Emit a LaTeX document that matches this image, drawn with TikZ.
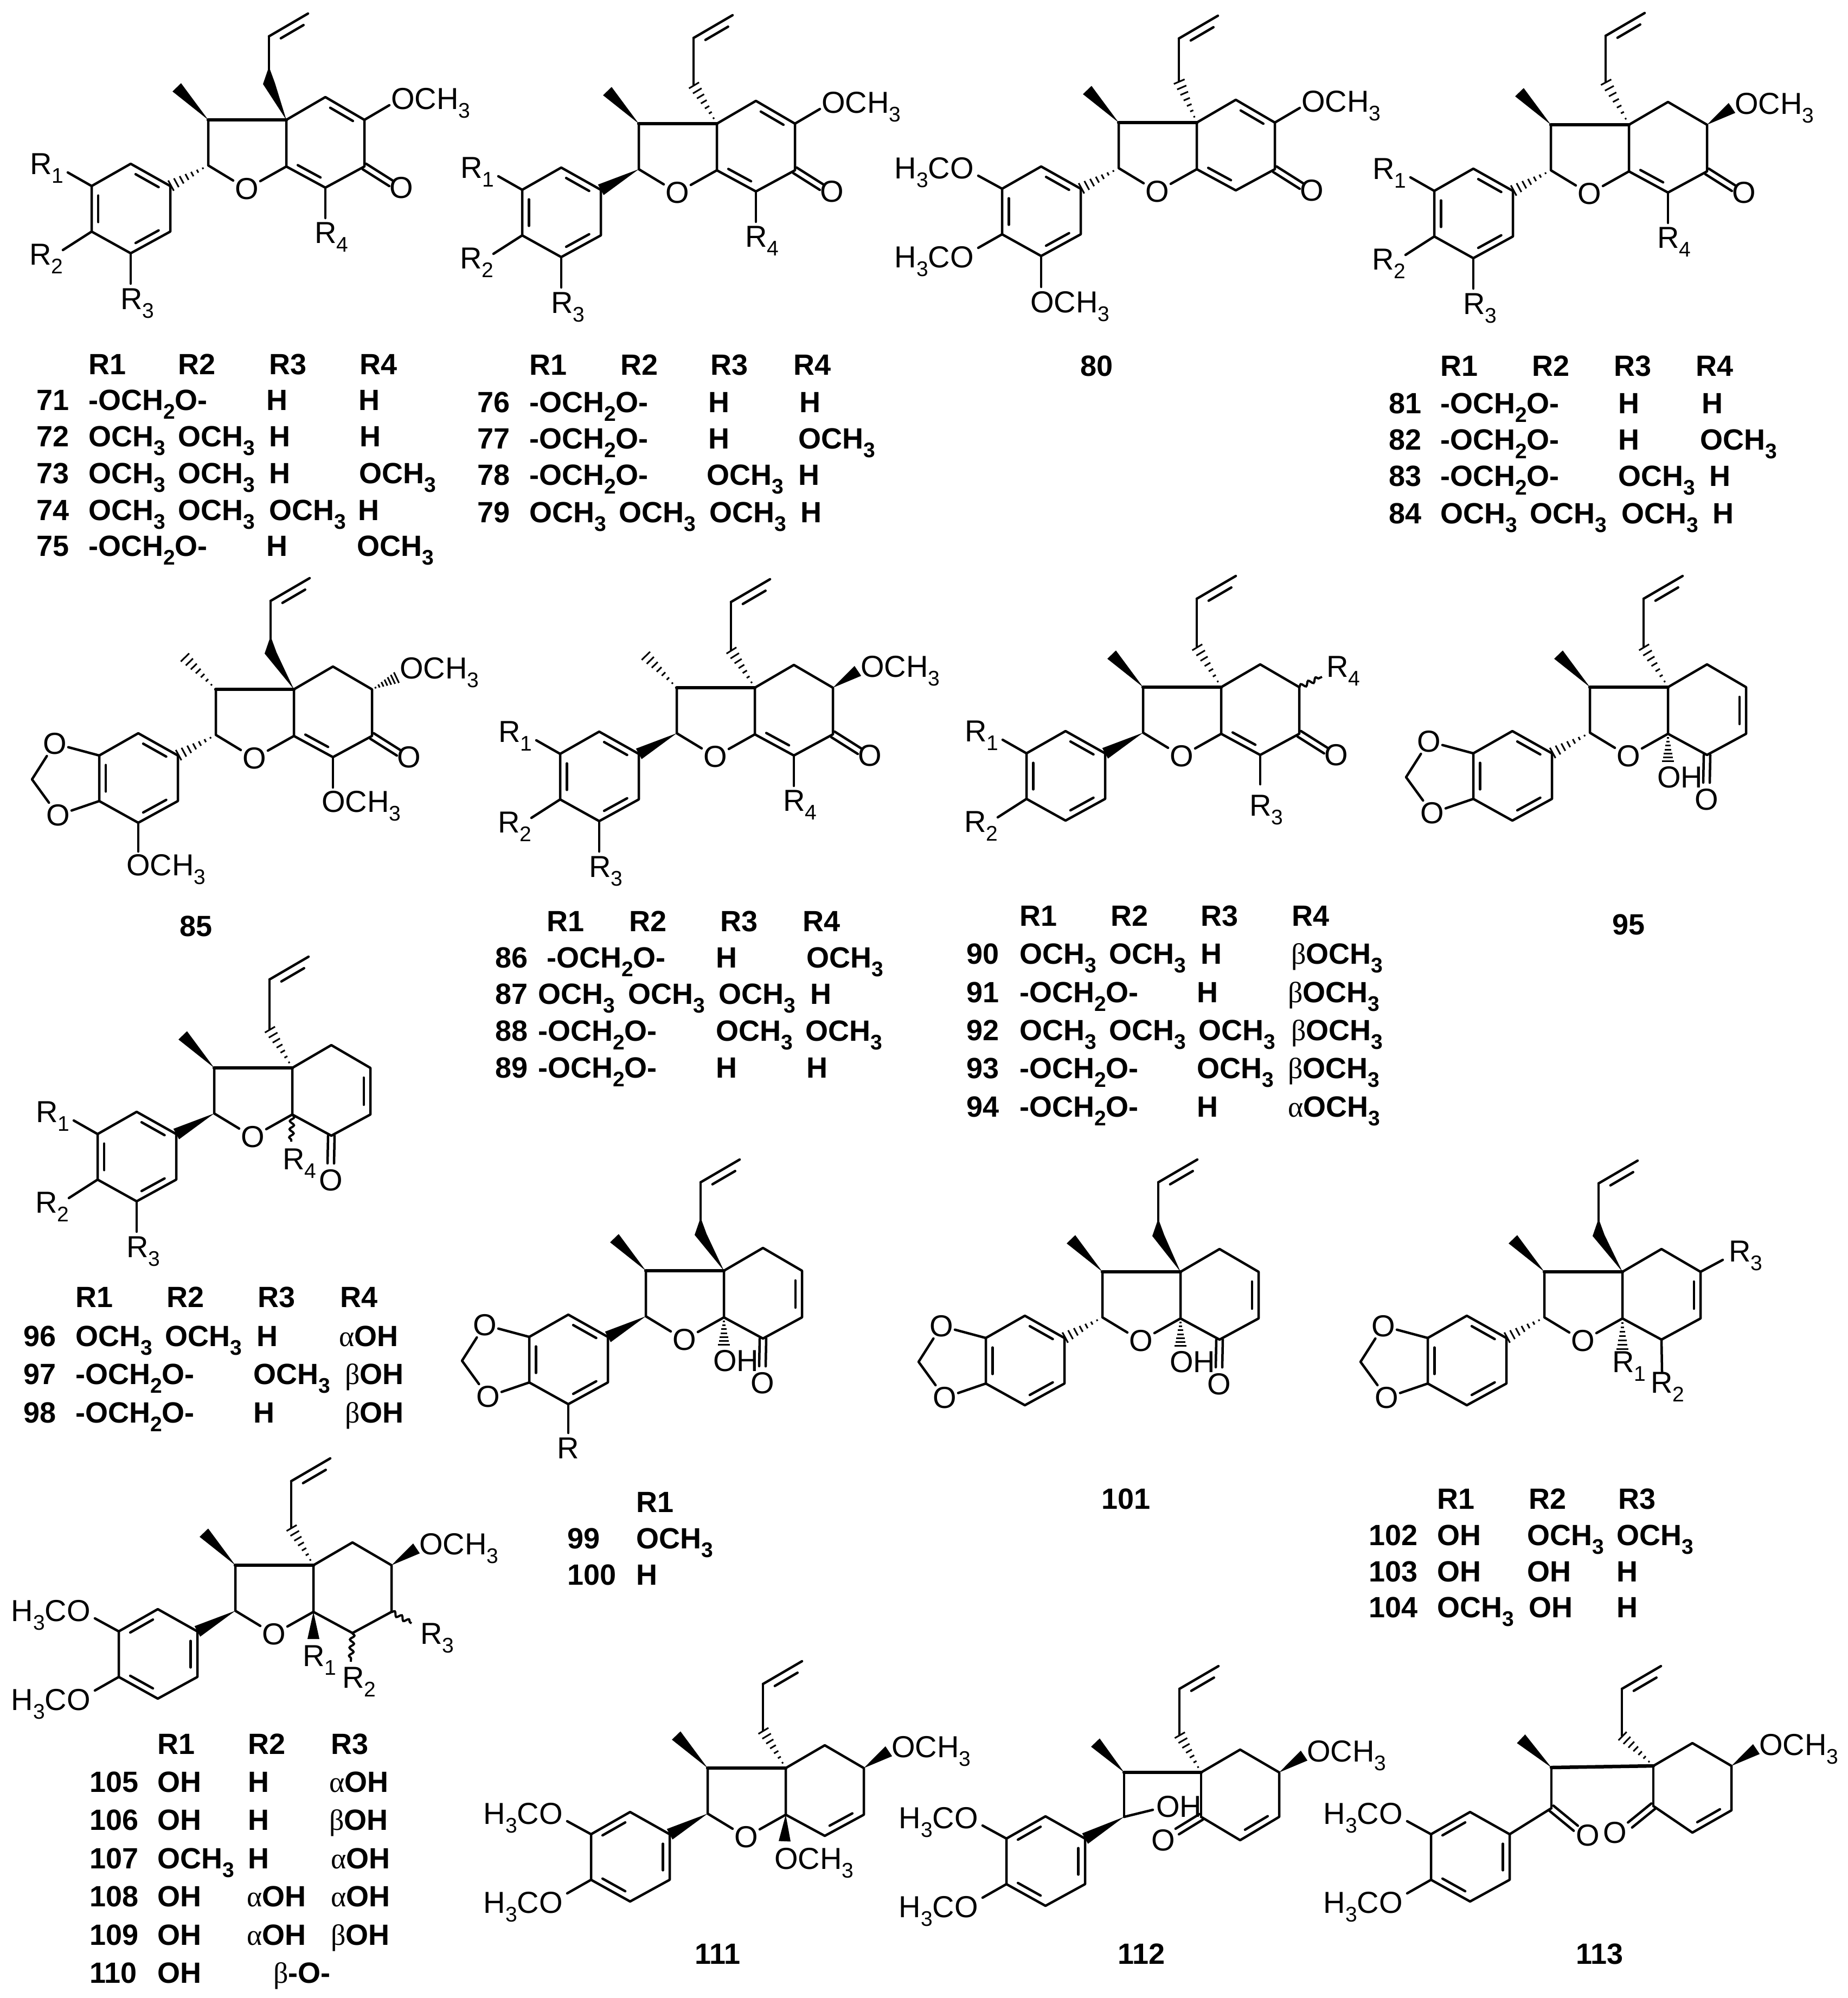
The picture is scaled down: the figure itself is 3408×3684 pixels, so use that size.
\documentclass[tikz,border=0pt]{standalone}
\usepackage{fontspec}
\setmainfont{Liberation Sans}
\newfontfamily\grkfont{Liberation Serif}
\usetikzlibrary{calc}
\usetikzlibrary{decorations.pathmorphing}

\newcommand{\sbt}[1]{\raisebox{-.3em}{\fontsize{39}{39}\selectfont #1}}
\newcommand{\och}{OCH\sbt{3}}
\newcommand{\hco}{H\sbt{3}CO}
\newcommand{\mdo}{-OCH\sbt{2}O-}
\newcommand{\alf}{{\grkfont\mdseries α}}
\newcommand{\bet}{{\grkfont\mdseries β}}

\tikzset{
  bond/.style={line width=4.5pt,line cap=round,line join=round},
  topb/.style={line width=6.5pt,line cap=round},
  hashl/.style={line width=3pt},
  wavyb/.style={line width=4pt,decorate,decoration={snake,amplitude=4pt,segment length=15pt}},
  atomt/.style={inner sep=3pt,font=\fontsize{56}{60}\selectfont},
  lab/.style={anchor=base west,inner sep=0pt,font=\fontsize{56}{60}\selectfont},
  labe/.style={anchor=base east,inner sep=0pt,font=\fontsize{56}{60}\selectfont},
  tabtxt/.style={anchor=base west,inner sep=0pt,font=\fontsize{54}{60}\selectfont\bfseries}
}

% bond helpers
\newcommand{\innerb}[3]{\draw[bond] ($(#1)!.15!(#2)!.17!(#3)$) -- ($(#2)!.15!(#1)!.17!(#3)$);}
\newcommand{\twolines}[2]{\draw[bond] ($(#1)!6pt!90:(#2)$) -- ($(#2)!6pt!-90:(#1)$);
  \draw[bond] ($(#1)!6pt!-90:(#2)$) -- ($(#2)!6pt!90:(#1)$);}
\newcommand{\wedgeb}[2]{\fill ($(#2)!11pt!90:(#1)$) -- (#1) -- ($(#2)!11pt!-90:(#1)$) -- cycle;}
\newcommand{\hashb}[2]{\foreach \f in {.14,.28,.42,.56,.70,.84,.98} {
  \draw[hashl] ($(#1)!\f!(#2)!{\f*11pt}!90:(#2)$) -- ($(#1)!\f!(#2)!{\f*11pt}!-90:(#2)$);}}

% skeleton
\newcommand{\setaryl}{\coordinate (a1) at (-214,122); \coordinate (a2) at (-287,81);
  \coordinate (a3) at (-359,122); \coordinate (a4) at (-359,206);
  \coordinate (a5) at (-287,246); \coordinate (a6) at (-214,206);
  \coordinate (ac) at (-287,164);}
\newcommand{\setskel}{\setaryl
  \coordinate (j1) at (0,0); \coordinate (j2) at (0,86);
  \coordinate (c3) at (-144,0); \coordinate (c2) at (-144,84);
  \coordinate (t) at (72,-42); \coordinate (c6) at (144,0);
  \coordinate (c5) at (144,86); \coordinate (b) at (72,125);
  \coordinate (rc) at (72,43); \coordinate (mt) at (-202,-60);}
\newcommand{\furan}{\node[atomt] (ox) at (-73,127) {O};
  \draw[bond] (c3) -- (c2) -- (ox) -- (j2) -- (j1);
  \draw[topb] (c3) -- (j1);}
\newcommand{\ringA}{\draw[bond] (a1) -- (a2) -- (a3) -- (a4) -- (a5) -- (a6) -- cycle;
  \innerb{a2}{a1}{ac} \innerb{a3}{a4}{ac} \innerb{a5}{a6}{ac}}
\newcommand{\ringB}{\draw[bond] (a1) -- (a2) -- (a3) -- (a4) -- (a5) -- (a6) -- cycle;
  \innerb{a2}{a3}{ac} \innerb{a1}{a6}{ac} \innerb{a4}{a5}{ac}}
\newcommand{\sixring}{\draw[bond] (j1) -- (t) -- (c6) -- (c5) -- (b) -- (j2);}
\newcommand{\vinyl}[2]{\coordinate (v1) at (#1,#2); \coordinate (v2) at (#1+72,#2-42);
  \coordinate (vc) at (#1+76,#2+52);
  \draw[bond] (v1) -- (v2); \innerb{v1}{v2}{vc}}
\newcommand{\allylh}[3]{\coordinate (ah) at (#1,#2); \hashb{j1}{ah}
  \vinyl{#1}{#3} \draw[bond] (ah) -- (v1);}
\newcommand{\allylw}[2]{\fill (j1) -- (#1+11,-68) -- (#1,-98) -- (#1-11,-66) -- cycle;
  \vinyl{#1}{#2} \coordinate (ah) at (#1,-90); \draw[bond] (ah) -- (v1);}

% substituents
\newcommand{\rone}{\node[lab] (rone) at (-473,100) {R\sbt{1}};
  \coordinate (ronb) at (-403,97); \draw[bond] (a3) -- (ronb);}
\newcommand{\rtwo}{\node[lab] (rtwo) at (-474,267) {R\sbt{2}};
  \coordinate (rtwb) at (-412,240); \draw[bond] (a4) -- (rtwb);}
\newcommand{\rthree}{\node[lab] (rthr) at (-306,349) {R\sbt{3}};
  \coordinate (rthb) at (-287,302); \draw[bond] (a5) -- (rthb);}
\newcommand{\rfour}{\node[lab] (rfou) at (52,227) {R\sbt{4}};
  \coordinate (rfob) at (72,181); \draw[bond] (b) -- (rfob);}
\newcommand{\hcoa}{\node[labe] (hup) at (-411,103) {\hco};
  \coordinate (hupb) at (-403,98); \draw[bond] (a3) -- (hupb);}
\newcommand{\hcob}{\node[labe] (hlo) at (-411,267) {\hco};
  \coordinate (hlob) at (-403,231); \draw[bond] (a4) -- (hlob);}
\newcommand{\omeplain}{\node[lab] (ome) at (193,-20) {\och};
  \coordinate (omeb) at (190,-27); \draw[bond] (c6) -- (omeb);}
\newcommand{\omewedge}{\node[lab] (ome) at (195,-20) {\och};
  \coordinate (omeb) at (190,-31); \wedgeb{c6}{omeb}}
\newcommand{\ketside}{\node[atomt] (ko) at (212,125) {O};
  \coordinate (kend) at (193,117); \twolines{c5}{kend}}
\newcommand{\ketdown}{\node[atomt] (ko) at (71,207) {O};
  \coordinate (kend) at (71,176); \twolines{b}{kend}}
\newcommand{\mdioxo}{\node[atomt] (ou) at (-441,100) {O}; \node[atomt] (ol) at (-435,232) {O};
  \coordinate (ch) at (-483,166);
  \draw[bond] (a3) -- (ou) -- (ch) -- (ol) -- (a4);}
\newcommand{\ohdown}{\node[lab] (oh) at (-20,185) {OH};
  \coordinate (ohb) at (0,138); \hashb{j2}{ohb}}

\newcommand{\tabrow}[2]{\foreach \px/\ptxt in {#2} {\node[tabtxt] (t\px-#1) at (\px,#1) {\ptxt};}}

\begin{document}
\begin{tikzpicture}[x=1pt,y=-1pt]
\useasboundingbox (0,0) rectangle (3408,3684);

% 71-75
\begin{scope}[shift={(528,221)}]
\setskel \furan \allylw{-32}{-154} \wedgeb{c3}{mt} \ringA \hashb{c2}{a1}
\rone \rtwo \rthree \rfour \sixring \innerb{t}{c6}{rc} \innerb{b}{j2}{rc} \ketside \omeplain
\end{scope}
% 76-79
\begin{scope}[shift={(1322,228)}]
\setskel \furan \allylh{-43}{-72}{-158} \wedgeb{c3}{mt} \ringA \wedgeb{c2}{a1}
\rone \rtwo \rthree \rfour \sixring \innerb{t}{c6}{rc} \innerb{b}{j2}{rc} \ketside \omeplain
\end{scope}
% 80
\begin{scope}[shift={(2207,226)}]
\setskel \furan \allylh{-33}{-77}{-155} \wedgeb{c3}{mt} \ringA \hashb{c2}{a1}
\hcoa \hcob \sixring \innerb{t}{c6}{rc} \innerb{b}{j2}{rc} \ketside \omeplain
\node[lab] (olow) at (-307,350) {\och}; \coordinate (olob) at (-287,303); \draw[bond] (a5) -- (olob);
\end{scope}
% 81-84
\begin{scope}[shift={(3004,230)}]
\setskel \furan \allylh{-43}{-80}{-164} \wedgeb{c3}{mt} \ringA \hashb{c2}{a1}
\rone \rtwo \rthree \rfour \sixring \innerb{b}{j2}{rc} \ketside \omewedge
\end{scope}
% 85
\begin{scope}[shift={(542,1271)}]
\setskel \furan \allylw{-43}{-163} \hashb{c3}{mt} \ringA \hashb{c2}{a1} \mdioxo
\sixring \innerb{b}{j2}{rc} \ketside
\node[lab] (ome) at (195,-20) {\och}; \coordinate (omeb) at (190,-22); \hashb{c6}{omeb}
\node[lab] (olow) at (-309,343) {\och}; \coordinate (olob) at (-287,299); \draw[bond] (a5) -- (olob);
\node[lab] (obot) at (51,226) {\och}; \coordinate (obob) at (72,181); \draw[bond] (b) -- (obob);
\end{scope}
% 86-89
\begin{scope}[shift={(1392,1268)}]
\setskel \furan \allylh{-44}{-70}{-158} \hashb{c3}{mt} \ringA \wedgeb{c2}{a1}
\rone \rtwo \rthree \rfour \sixring \innerb{b}{j2}{rc} \ketside \omewedge
\end{scope}
% 90-94
\begin{scope}[shift={(2252,1267)}]
\setskel \furan \allylh{-45}{-75}{-163} \wedgeb{c3}{mt} \ringA \wedgeb{c2}{a1}
\rone \rtwo \sixring \innerb{b}{j2}{rc} \ketside
\node[lab] (rthr) at (52,237) {R\sbt{3}}; \coordinate (rthb) at (72,179); \draw[bond] (b) -- (rthb);
\node[lab] (rfou) at (194,-19) {R\sbt{4}}; \coordinate (rfob) at (186,-19); \draw[wavyb] (c6) -- (rfob);
\end{scope}
% 95
\begin{scope}[shift={(3076,1267)}]
\setskel \furan \allylh{-45}{-75}{-163} \wedgeb{c3}{mt} \ringA \hashb{c2}{a1} \mdioxo
\sixring \innerb{c6}{c5}{rc} \ketdown \ohdown
\end{scope}
% 96-98
\begin{scope}[shift={(539,1969)}]
\setskel \furan \allylh{-42}{-72}{-163} \wedgeb{c3}{mt} \ringA \wedgeb{c2}{a1}
\rone \rtwo \rthree \sixring \innerb{c6}{c5}{rc} \ketdown
\node[lab] (rfou) at (-18,187) {R\sbt{4}}; \coordinate (rfob) at (-2,136); \draw[wavyb] (j2) -- (rfob);
\end{scope}
% 99-100
\begin{scope}[shift={(1335,2343)}]
\setskel \furan \allylw{-43}{-163} \wedgeb{c3}{mt} \ringA \wedgeb{c2}{a1} \mdioxo
\sixring \innerb{c6}{c5}{rc} \ketdown \ohdown
\node[lab] (rbot) at (-308,346) {R}; \coordinate (rbob) at (-287,299); \draw[bond] (a5) -- (rbob);
\end{scope}
% 101
\begin{scope}[shift={(2177,2345)}]
\setskel \furan \allylw{-41}{-165} \wedgeb{c3}{mt} \ringA \hashb{c2}{a1} \mdioxo
\sixring \innerb{c6}{c5}{rc} \ketdown \ohdown
\end{scope}
% 102-104
\begin{scope}[shift={(2992,2345)}]
\setskel \furan \allylw{-44}{-163} \wedgeb{c3}{mt} \ringA \hashb{c2}{a1} \mdioxo
\sixring \innerb{c6}{c5}{rc}
\node[lab] (rone) at (-19,185) {R\sbt{1}}; \coordinate (ronb) at (0,144); \hashb{j2}{ronb}
\node[lab] (rtwo) at (52,223) {R\sbt{2}}; \coordinate (rtwb) at (73,184); \draw[bond] (b) -- (rtwb);
\node[lab] (rthr) at (196,-19) {R\sbt{3}}; \coordinate (rthb) at (185,-22); \draw[bond] (c6) -- (rthb);
\end{scope}
% 105-110
\begin{scope}[shift={(578,2886)}]
\setskel \furan \allylh{-41}{-70}{-155} \wedgeb{c3}{mt} \ringB \wedgeb{c2}{a1} \hcoa \hcob
\sixring \omewedge
\coordinate (ronb) at (0,136); \wedgeb{j2}{ronb}
\node[lab] (rone) at (-20,186) {R\sbt{1}};
\node[lab] (rtwo) at (53,226) {R\sbt{2}}; \coordinate (rtwb) at (69,178); \draw[wavyb] (b) -- (rtwb);
\node[lab] (rthr) at (197,145) {R\sbt{3}}; \coordinate (rthb) at (181,107); \draw[wavyb] (c5) -- (rthb);
\end{scope}
% 111
\begin{scope}[shift={(1449,3260)}]
\setskel \furan \allylh{-42}{-70}{-155} \wedgeb{c3}{mt} \ringB \wedgeb{c2}{a1} \hcoa \hcob
\sixring \innerb{c5}{b}{rc} \omewedge
\coordinate (obob) at (-2,135); \wedgeb{j2}{obob}
\node[lab] (obot) at (-21,186) {\och};
\end{scope}
% 112
\begin{scope}[shift={(2215,3268)}]
\setskel \coordinate (j2) at (0,82); \coordinate (c5) at (144,82); \coordinate (c2) at (-142,82);
\coordinate (c3) at (-142,0); \coordinate (mt) at (-195,-55);
\draw[bond] (c3) -- (c2); \draw[bond] (j1) -- (j2); \draw[topb] (c3) -- (j1);
\allylh{-40}{-70}{-154} \wedgeb{c3}{mt} \ringB \wedgeb{c2}{a1} \hcoa \hcob
\sixring \innerb{c5}{b}{rc} \omewedge
\node[lab] (oh) at (-83,82) {OH}; \coordinate (ohb) at (-89,69); \draw[bond] (c2) -- (ohb);
\node[atomt] (ko) at (-70,125) {O}; \coordinate (kend) at (-44,109); \twolines{j2}{kend}
\end{scope}
% 113
\begin{scope}[shift={(3049,3256)}]
\setskel \coordinate (j2) at (0,74); \coordinate (c5) at (144,82); \coordinate (c2) at (-188,78);
\coordinate (c3) at (-188,3); \coordinate (mt) at (-244,-50); \coordinate (b) at (72,123);
\coordinate (rc) at (72,40);
\draw[bond] (c3) -- (c2); \draw[bond] (j1) -- (j2); \draw[topb] (c3) -- (j1);
\allylh{-58}{-56}{-142} \wedgeb{c3}{mt} \sixring \innerb{c5}{b}{rc} \omewedge
\begin{scope}[shift={(-51,4)}]
\setaryl \ringB \hcoa \hcob
\end{scope}
\draw[bond] (c2) -- (a1);
\node[atomt] (kob) at (-121,128) {O}; \coordinate (kbnd) at (-143,115); \twolines{c2}{kbnd}
\node[atomt] (ko) at (-71,123) {O}; \coordinate (kend) at (-43,109); \twolines{j2}{kend}
\end{scope}

% tables
\tabrow{690}{163/R1,328/R2,496/R3,663/R4}
\tabrow{756}{67/71,163/\mdo,491/H,661/H}
\tabrow{823}{67/72,163/\och,328/\och,496/H,663/H}
\tabrow{891}{67/73,163/\och,328/\och,496/H,662/\och}
\tabrow{959}{67/74,163/\och,328/\och,496/\och,660/H}
\tabrow{1025}{67/75,163/\mdo,491/H,658/\och}

\tabrow{691}{976/R1,1144/R2,1310/R3,1463/R4}
\tabrow{760}{880/76,976/\mdo,1306/H,1474/H}
\tabrow{827}{880/77,976/\mdo,1306/H,1472/\och}
\tabrow{894}{880/78,976/\mdo,1303/\och,1472/H}
\tabrow{963}{880/79,976/\och,1141/\och,1308/\och,1476/H}

\tabrow{693}{1992/80,2656/R1,2825/R2,2976/R3,3127/R4}
\tabrow{762}{2561/81,2656/\mdo,2984/H,3138/H}
\tabrow{829}{2561/82,2656/\mdo,2984/H,3135/\och}
\tabrow{896}{2561/83,2656/\mdo,2984/\och,3152/H}
\tabrow{965}{2561/84,2656/\och,2821/\och,2990/\och,3158/H}

\tabrow{1726}{331/85}
\tabrow{1717}{1008/R1,1160/R2,1328/R3,1480/R4}
\tabrow{1784}{913/86,1008/\mdo,1320/H,1487/\och}
\tabrow{1851}{913/87,992/\och,1158/\och,1325/\och,1494/H}
\tabrow{1919}{913/88,992/\mdo,1320/\och,1485/\och}
\tabrow{1987}{913/89,992/\mdo,1320/H,1487/H}

\tabrow{1707}{1880/R1,2048/R2,2214/R3,2382/R4}
\tabrow{1777}{1782/90,1880/\och,2045/\och,2214/H,2381/\bet\och}
\tabrow{1848}{1782/91,1880/\mdo,2207/H,2375/\bet\och}
\tabrow{1918}{1782/92,1880/\och,2045/\och,2210/\och,2381/\bet\och}
\tabrow{1988}{1782/93,1880/\mdo,2207/\och,2375/\bet\och}
\tabrow{2059}{1782/94,1880/\mdo,2207/H,2375/\alf\och}
\tabrow{1723}{2973/95}

\tabrow{2410}{139/R1,307/R2,475/R3,627/R4}
\tabrow{2482}{43/96,139/\och,304/\och,473/H,625/\alf OH}
\tabrow{2552}{43/97,139/\mdo,467/\och,636/\bet OH}
\tabrow{2623}{43/98,139/\mdo,467/H,636/\bet OH}

\tabrow{2788}{1173/R1}
\tabrow{2855}{1046/99,1173/\och}
\tabrow{2922}{1046/100,1173/H}

\tabrow{2782}{2031/101,2650/R1,2819/R2,2984/R3}
\tabrow{2849}{2524/102,2650/OH,2816/\och,2981/\och}
\tabrow{2916}{2524/103,2650/OH,2816/OH,2981/H}
\tabrow{2982}{2524/104,2650/\och,2819/OH,2981/H}

\tabrow{3234}{290/R1,457/R2,610/R3}
\tabrow{3304}{165/105,290/OH,457/H,607/\alf OH}
\tabrow{3374}{165/106,290/OH,457/H,607/\bet OH}
\tabrow{3445}{165/107,290/\och,457/H,610/\alf OH}
\tabrow{3515}{165/108,290/OH,455/\alf OH,610/\alf OH}
\tabrow{3586}{165/109,290/OH,455/\alf OH,610/\bet OH}
\tabrow{3656}{165/110,290/OH,504/\bet -O-}

\tabrow{3621}{1281/111,2061/112,2906/113}
\end{tikzpicture}
\end{document}
